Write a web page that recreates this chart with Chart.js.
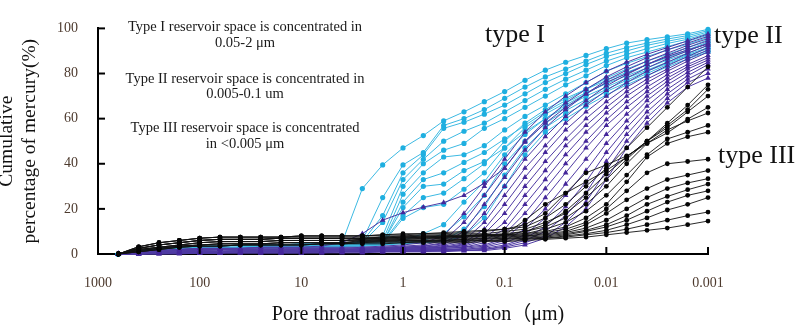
<!DOCTYPE html>
<html lang="en">
<head>
  <meta charset="UTF-8">
  <title>Pore throat radius distribution</title>
  <script src="https://cdn.jsdelivr.net/npm/chart.js"></script>
  <style>
    html, body { margin: 0; padding: 0; background: #fff; }
    #wrap { width: 796px; height: 328px; position: relative; }
  </style>
</head>
<body>
  <div id="wrap"><canvas id="graphic"></canvas></div>

  <script>
    // pore throat radius (um) of every measuring step, 5 steps per decade
    const radii = [630.96, 398.11, 251.19, 158.49, 100, 63.096, 39.811, 25.119, 15.849, 10,
                   6.3096, 3.9811, 2.5119, 1.5849, 1, 0.63096, 0.39811, 0.25119, 0.15849, 0.1,
                   0.063096, 0.039811, 0.025119, 0.015849, 0.01, 0.0063096, 0.0039811, 0.0025119, 0.0015849, 0.001];
    const xTickValues = [1000, 100, 10, 1, 0.1, 0.01, 0.001];
    const xTickLabels = ['1000', '100', '10', '1', '0.1', '0.01', '0.001'];
    const yTicks = [0, 20, 40, 60, 80, 100];

    // cumulative mercury saturation (%) - type I samples
    const typeI = [
      [0,1.5,2.5,3,3.5,3.5,4,4,4,4.5,4.5,5, 29,39.5,47,52.5,59,63,67.5,72,77,81.5,85,88,91,93.5,95,96.3,97.6,99.6],
      [0,1,2,2.5,3,3,3,3.5,3.5,3.5,4,4, 6,25,39.5,45,57,60,64,69,74,78.5,82,85.5,89,91.5,93.5,95.3,96.8,99],
      [0,1,1.5,2,2.5,2.5,3,3,3,3,3.5,3.5, 5.5,17,36,44,55.7,58.4,62,66,71,76,80,84,87.5,90,92.5,94.3,96,98.4],
      [0,0.5,1,1.5,2,2,2.5,2.5,2.5,3,3,3, 5,14,33,42,50,54.4,58,63,68,73,77.5,81.5,85.5,88.5,91,93.3,95.2,97.8],
      [0,1.5,2.5,3,3.5,3.5,4,4,4,4.5,4.5,5, 5,8,30,40,46,49,55.7,60,65,70,75,79,83.5,87,89.5,92,94.3,97],
      [0,1,2,2.5,3,3,3,3.5,3.5,3.5,4,4, 5,6,26.5,36,43,44,48,55,61,66,71,76,81,84.5,87.5,90.5,93,96],
      [0,1,1.5,2,2.5,2.5,3,3,3,3,3.5,3.5, 4.5,5,23,33,36,40.6,45,51,57,63,68,73,78,82,85.5,88.5,91.5,95],
      [0,0.5,1,1.5,2,2,2.5,2.5,2.5,3,3,3, 4.5,5,20.6,30,31,37,41,47,54,60,66,71,76,80,84,87.5,90.5,94],
      [0,1.5,2.5,3,3.5,3.5,4,4,4,4.5,4.5,4.5, 4.5,5,17,25,27,33.4,40,50,58,64,69,73,77,80.5,84,87,90,93.5],
      [0,1,2,2.5,3,3,3,3.5,3.5,3.5,4,4, 4,4.5,15.8,20.6,22,28.7,36,47,56,62,67,71.5,75.5,79,82.5,86,89,92.5],
      [0,1,1.5,2,2.5,2.5,3,3,3,3,3.5,3.5, 4,4.5,6,9,13,23,32,44,53,60,65,70,74,78,81.5,85,88.5,91.5],
      [0,0.5,1,1.5,2,2,2.5,2.5,2.5,3,3,3, 4,4.5,5,6,9,16.5,26,40,50,58,63.5,68.5,73,77,81,84.5,88,91],
      [0,1,2,2.5,3,3,3,3.5,3.5,3.5,3.5,3.5, 3.5,4,5,5.5,6,11,21,35,47,56,62,67,72,76,80,84,87.5,90],
      [0,0.5,1,1.5,2,2,2.5,2.5,2.5,3,3,3, 3.5,4,4.5,5,5.5,8,16,30,44,54,60,65.5,70.5,75,79,83,86.5,89.5]
    ];

    // type II samples
    const typeII = [
      [0,1,1.5,2,2.5,2.5,2.5,3,3,3,3.5,5, 9,15,18.3,20.8,22.8,26,31.4,38,49.6,58,65,71,76,80,84,87.5,90.5,93],
      [0,1,1.5,2,2.5,2.5,2.5,3,3,3,3,3, 3,3.5,4,5,8,18,30,42,54,63,70,76,81,85,88.5,91.5,94.5,97.5],
      [0,0.5,1,1.5,1.5,2,2,2,2,2.5,2.5,2.5, 3,3,3.5,4,6,14,26,38,50,59,67,73,78.5,83,87,90.5,93.5,96.5],
      [0,0.5,0.5,1,1,1,1.5,1.5,1.5,1.5,1.5,2, 2.5,3,3,3.5,5,10,22,34,46,56,64,71,77,81.5,85.5,89,92.5,95.5],
      [0,0,0.5,0.5,0.5,0.5,1,1,1,1,1,1.5, 2.5,3,3,3.5,4.5,8,18,30,42,52,61,68,74.5,79.5,84,88,91.5,94.5],
      [0,1,1.5,2,2.5,2.5,2.5,2.5,2.5,2.5,2.5,2.5, 2.5,2.5,3,3,4,6,14,26,38,48,58,66,72.5,78,82.5,86.5,90,93.5],
      [0,0.5,1,1.5,1.5,2,2,2,2,2,2,2, 2,2.5,2.5,3,3.5,5,11,22,34,45,55,63,70,76,81,85,89,92.5],
      [0,0.5,0.5,1,1,1,1.5,1.5,1.5,1.5,1.5,2, 2,2.5,2.5,3,3,4.5,9,18,30,41,51,60,67.5,74,79,83.5,87.5,91.5],
      [0,0,0.5,0.5,0.5,0.5,1,1,1,1,1,1.5, 2,2,2.5,2.5,3,4,7,14,26,37,48,57,65,72,77.5,82,86.5,90.5],
      [0,1,1.5,2,2,2,2,2,2,2,2,2, 2,2,2,2.5,3,3.5,6,11,22,33,44,54,62.5,70,76,81,85.5,89.5],
      [0,0.5,1,1.5,1.5,1.5,1.5,1.5,1.5,1.5,1.5,1.5, 1.5,2,2,2.5,2.5,3,5,9,18,29,40,50,59.5,67.5,74,79.5,84,88],
      [0,0.5,0.5,1,1,1,1.5,1.5,1.5,1.5,1.5,1.5, 1.5,1.5,2,2,2.5,3,4,7,14,25,36,47,57,65,72,78,83,87],
      [0,0,0.5,0.5,0.5,0.5,1,1,1,1,1,1.5, 1.5,1.5,1.5,2,2,2.5,3.5,6,11,20,31,42,53,62,70,76.5,82,86],
      [0,0.5,1,1,1,1,1,1,1,1,1,1, 1,1.5,1.5,1.5,2,2,3,5,8.5,16,26,37,49,59,68,75,80.5,85],
      [0,0.5,0.5,0.5,0.5,0.5,1,1,1,1,1,1, 1,1,1.5,1.5,1.5,2,2.5,4,7,12,21,32,45,56,65.5,73,79,84],
      [0,0,0.5,0.5,0.5,0.5,0.5,0.5,0.5,0.5,1,1, 1,1,1,1.5,1.5,1.5,2,3.5,6,10,17,27,41,53,63,71,77.5,82],
      [0,0,0,0.5,0.5,0.5,0.5,0.5,0.5,0.5,0.5,1, 1,1,1,1,1.5,1.5,2,3,5,8,14,23,37,50,60.5,69,76,80],
      [0,0,0,0,0.5,0.5,0.5,0.5,0.5,0.5,0.5,0.5, 0.5,1,1,1,1,1.5,1.5,2.5,4,7,12,20,33,47,58,67,74,78]
    ];

    // type III samples
    const typeIII = [
      [0,2.5,4,5,6,6.5,6.5,6.5,7,7,7,7, 7,7.5,7.5,8,8,8,8.5,8.5,15,22,27,32,37,43,50,58,66,75],
      [0,3.2,5,6,7,7.5,7.5,7.5,7.5,8,8,8, 8,8.5,9,9,9.5,10,10.5,11,13,18,27,36,39.5,43.5,49,53.7,59.8,65],
      [0,3.2,5,6,7,7.5,7.5,7.5,7.5,8,8,8, 8,8,8,8.5,8.5,9,9,10,11,14,18,25,33,42,50,57,64,73],
      [0,2.5,4,5,6,6.5,6.5,6.5,7,7,7,7, 7,7.5,8,8,8,8.5,8.5,9,10,12,16,22,30,40,49,55,59,62.5],
      [0,2.5,4,5,6,6.5,6.5,6.5,7,7,7,7, 7,7,7.5,7.5,8,8,8.5,8.5,9,11,14,19,26,35,44,51,54,57],
      [0,2,3,4,5,5.5,5.5,5.5,6,6,6,6, 6.5,7,7,7.5,7.5,8,8,8.5,9,10,12,16,22,32,43,49,52,54],
      [0,2,3,4,5,5.5,5.5,5.5,6,6,6,6, 6.5,6.5,7,7,7.5,7.5,8,8,8.5,9.5,11,14,20,28,36,40,41,42],
      [0,2,3,4,5,5.5,5.5,5.5,6,6,6,6, 6,6.5,6.5,7,7,7.5,7.5,8,8,9,10,13,18,24,29,33,35,37],
      [0,1.5,2.5,3.5,4,4.5,4.5,4.5,5,5,5,5, 6,6,6.5,6.5,7,7,7,7.5,8,8.5,9.5,11.5,15,20,25,29,31.5,33.4],
      [0,1.5,2.5,3.5,4,4.5,4.5,4.5,5,5,5,5, 5.5,6,6,6,6.5,6.5,7,7,7.5,8,9,10.5,13,17,22,25.5,28.5,31],
      [0,1.5,2.5,3.5,4,4.5,4.5,4.5,5,5,5,5, 5.5,5.5,6,6,6,6.5,6.5,7,7,7.5,8.5,10,12,15,19,23,26,28],
      [0,1,2,3,3.5,3.5,4,4,4,4,4.5,4.5, 5,5.5,5.5,5.5,6,6,6,6.5,7,7,8,9,10.5,13,16,19.5,22,25],
      [0,1,2,3,3.5,3.5,4,4,4,4,4.5,4.5, 5,5,5,5.5,5.5,5.5,6,6,6.5,7,7.5,8.5,9.5,11,13,15,17,18.6],
      [0,1,2,3,3.5,3.5,4,4,4,4,4.5,4.5, 4.5,4.5,5,5,5,5,5.5,5.5,6,6.5,7,7.5,8.5,9.5,10.5,11.5,13,14.6],
      [0,3.2,5,6,7,7.5,7.5,7.5,7.5,8,8,8, 8,8.5,8.5,9,9,9.5,10,11,12,16,22,30,38,47,56,65,74,83],
      [0,2.5,4,5,6,6.5,6.5,6.5,7,7,7,7, 7,7,7.5,7.5,7.5,8,8,8.5,10,13,19,27,35.4,43,50,56,63,70]
    ];

    const notes = [
      'Type I reservoir space is concentrated in', '0.05-2 μm',
      'Type II reservoir space is concentrated in', '0.005-0.1 um',
      'Type III reservoir space is concentrated', 'in <0.005 μm'
    ];
    const typeNames = ['type I', 'type II', 'type III'];

    const serif = '"Liberation Serif", "Noto Sans CJK SC", serif';

    function toPoints(values) {
      return values.map((v, i) => ({ x: radii[i], y: v }));
    }

    const datasets = [];
    typeIII.forEach(arr => datasets.push({
      data: toPoints(arr), borderColor: '#111111', backgroundColor: '#050505',
      borderWidth: 0.9, pointRadius: 2.4, pointStyle: 'circle', pointBorderWidth: 0
    }));
    typeII.forEach(arr => datasets.push({
      data: toPoints(arr), borderColor: '#4f3aa3', backgroundColor: '#45279a',
      borderWidth: 1, pointRadius: 3.2, pointStyle: 'triangle', pointBorderWidth: 0
    }));
    typeI.forEach(arr => datasets.push({
      data: toPoints(arr), borderColor: '#3cb9e2', backgroundColor: '#1eafe0',
      borderWidth: 1, pointRadius: 2.6, pointStyle: 'circle', pointBorderWidth: 0
    }));

    // inward tick marks + text notes
    const extras = {
      id: 'extras',
      afterDraw(chart) {
        const { ctx, chartArea: a, scales } = chart;
        ctx.save();
        ctx.strokeStyle = '#000';
        ctx.lineWidth = 2;
        yTicks.forEach(v => {
          if (v === 0) return;
          const y = scales.y.getPixelForValue(v);
          ctx.beginPath(); ctx.moveTo(a.left, y); ctx.lineTo(a.left + 7, y); ctx.stroke();
        });
        xTickValues.forEach(v => {
          const x = scales.x.getPixelForValue(v);
          ctx.beginPath(); ctx.moveTo(x, a.bottom); ctx.lineTo(x, a.bottom - 7); ctx.stroke();
        });

        ctx.fillStyle = '#1a1a1a';
        ctx.textAlign = 'center';
        ctx.textBaseline = 'middle';
        ctx.font = '14.5px ' + serif;
        const noteY = [27, 43, 79, 94, 128, 144];
        notes.forEach((t, i) => ctx.fillText(t, 245, noteY[i]));

        ctx.font = '26px ' + serif;
        ctx.fillStyle = '#111';
        ctx.textAlign = 'center';
        ctx.fillText(typeNames[0], 515, 35);
        ctx.textAlign = 'left';
        ctx.fillText(typeNames[1], 714, 36);
        ctx.fillText(typeNames[2], 718, 156);
        ctx.restore();
      }
    };

    const grafico = new Chart(document.getElementById('graphic'), {
      type: 'line',
      data: { datasets },
      options: {
        responsive: true,
        maintainAspectRatio: false,
        animation: false,
        devicePixelRatio: 1,
        clip: false,
        layout: { padding: { left: 0, right: 88, top: 8, bottom: 0 } },
        plugins: { legend: { display: false }, tooltip: { enabled: false } },
        scales: {
          x: {
            type: 'logarithmic',
            reverse: true,
            min: 0.001,
            max: 1000,
            afterBuildTicks: s => { s.ticks = xTickValues.map(v => ({ value: v })); },
            afterFit: s => { s.height = 74; },
            ticks: {
              autoSkip: false, maxRotation: 0, padding: 21,
              color: '#4d3a2e', font: { family: serif, size: 14 },
              callback: v => xTickLabels[xTickValues.indexOf(v)]
            },
            grid: { display: false, drawTicks: false },
            border: { color: '#000', width: 2 },
            title: {
              display: true, text: '      Pore throat radius distribution（μm)',
              color: '#111', font: { family: serif, size: 20 }, padding: { top: 0, bottom: 1 }
            }
          },
          y: {
            min: 0,
            max: 100,
            afterBuildTicks: s => { s.ticks = yTicks.map(v => ({ value: v })); },
            afterFit: s => { s.width = 98; },
            ticks: { padding: 20, color: '#4d3a2e', font: { family: serif, size: 14 } },
            grid: { display: false, drawTicks: false },
            border: { color: '#000', width: 2 },
            title: {
              display: true, text: ['Cumulative', 'percentage of mercury(%)'],
              color: '#111', font: { family: serif, size: 19.5, lineHeight: 1.18 }, padding: { top: -5, bottom: 0 }
            }
          }
        }
      },
      plugins: [extras]
    });
  </script>
</body>
</html>
